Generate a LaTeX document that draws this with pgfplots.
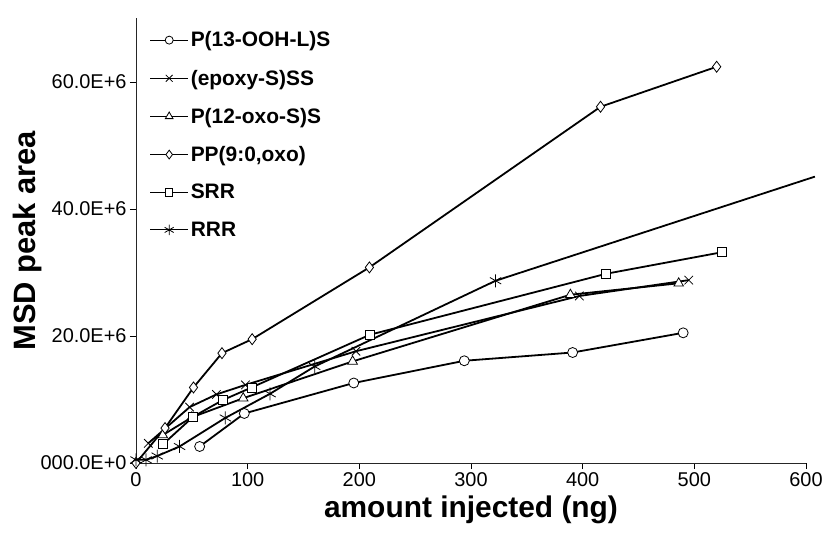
\documentclass[border=0pt]{standalone}
\usepackage{fontspec}
\setmainfont{Liberation Sans}
\usepackage{pgfplots}
\pgfplotsset{compat=1.18}
\begin{document}
\begin{tikzpicture}
\begin{axis}[
  name=ax,
  scale only axis, width=670bp, height=444.5bp,
  xmin=0, xmax=600, ymin=0, ymax=70,
  axis lines=left, axis line style={-, line width=0.8bp, black!85},
  clip=false,
  xtick={0,100,...,600},
  ytick={0,20,40,60}, yticklabels={000.0E+0,20.0E+6,40.0E+6,60.0E+6},
  tick align=outside, major tick length=6bp, tick style={line width=0.8bp, black},
  /pgf/number format/assume math mode=true,
  ticklabel style={font=\fontsize{20}{24}\selectfont},
  xlabel={amount injected (ng)}, ylabel={MSD peak area},
  xlabel style={font=\bfseries\fontsize{30}{34}\selectfont, at={(rel axis cs:0.5,0)}, anchor=center, yshift=-47bp},
  ylabel style={font=\bfseries\fontsize{31}{35}\selectfont, at={(rel axis cs:0,0.5)}, anchor=center, yshift=108bp},
  legend style={draw=none, fill=none, at={(0.02,0.975)}, anchor=north west,
    font=\bfseries\fontsize{21}{25}\selectfont, row sep=17.5bp, inner sep=0pt},
  legend cell align=left,
  legend image code/.code={\draw[#1, line width=1.2bp, mark repeat=2, mark phase=2, mark options={scale=0.8, fill=white, line width=0.8bp, solid}] plot coordinates {(0bp,0bp) (19bp,0bp) (38bp,0bp)};},
  every axis plot/.append style={black, line width=1.8bp, mark options={fill=white, line width=0.8bp, solid}},
]
\addplot[mark=*, mark size=5bp] coordinates {
(57,2.6) (97,7.8) (195,12.6) (294,16.1) (391,17.4) (490,20.5)};
\addlegendentry{P(13-OOH-L)S}
\addplot[mark=x, mark size=6bp] coordinates {
(11,3.1) (48,8.8) (72,10.8) (98,12.3) (197,17.6) (397,26.3) (495,28.8)};
\addlegendentry{(epoxy-S)SS}
\addplot[mark=triangle*, mark size=5.5bp] coordinates {
(24,4.4) (50,7.2) (96,10.2) (194,16.0) (389,26.5) (486,28.3)};
\addlegendentry{P(12-oxo-S)S}
\addplot[mark=diamond*, mark size=5.5bp] coordinates {
(0,0) (26,5.5) (51.5,11.9) (77,17.3) (104,19.5) (209,30.8) (416,56.1) (520,62.4)};
\addlegendentry{PP(9:0,oxo)}
\addplot[mark=square*, mark size=4.5bp] coordinates {
(24.5,3.0) (51.3,7.3) (77.6,9.9) (103.6,11.9) (209.5,20.2) (421,29.8) (525,33.2)};
\addlegendentry{SRR}
\addplot[mark=asterisk, mark size=6.5bp] coordinates {
(0,0.5) (9,0.5) (19,1.1) (39,2.6) (80,7.1) (120,10.9) (160,15.2) (322,28.7)};
\addlegendentry{RRR}
\addplot[forget plot, no marks] coordinates {(322,28.7) (608,45.1)};
\end{axis}
\pgfresetboundingbox
\path (-136bp,-71bp) rectangle ++(825bp,534bp);
\end{tikzpicture}
\end{document}
